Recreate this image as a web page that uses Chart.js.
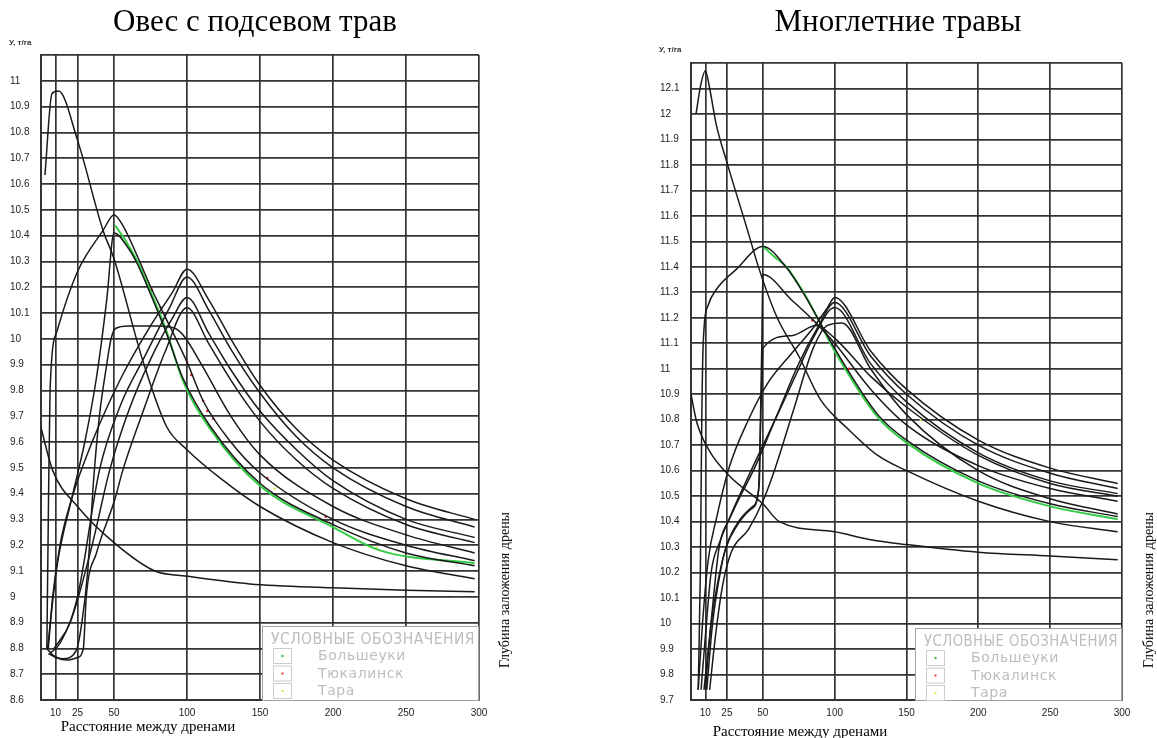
<!DOCTYPE html>
<html><head><meta charset="utf-8">
<script src="https://cdn.jsdelivr.net/npm/chart.js@4.4.1/dist/chart.umd.min.js"></script>
<style>
html,body{margin:0;padding:0;background:#fff}
body{width:1157px;height:738px;overflow:hidden;position:relative}
canvas{position:absolute;top:0}
#c1{left:0}#c2{left:578px}
.tt{position:absolute;font-family:"Liberation Serif",serif;color:#000;white-space:nowrap}
.yl{position:absolute;font-family:"Liberation Sans",Arial,sans-serif;font-size:8px;font-weight:bold;color:#333;white-space:nowrap}
.vt{position:absolute;font-family:"Liberation Serif",serif;font-size:14px;color:#000;white-space:nowrap;transform:translate(-50%,-50%) rotate(-90deg)}
</style></head><body>
<canvas id="c1" width="578" height="738"></canvas>
<canvas id="c2" width="579" height="738"></canvas>
<div class="tt" style="left:255px;top:3px;font-size:31px;transform:translateX(-50%)">Овес с подсевом трав</div>
<div class="tt" style="left:898px;top:3px;font-size:31px;transform:translateX(-50%)">Многлетние травы</div>
<div class="yl" style="left:9px;top:38px">У, т/га</div>
<div class="yl" style="left:659px;top:45px">У, т/га</div>
<div class="tt" style="left:148px;top:718px;font-size:15px;transform:translateX(-50%)">Расстояние между дренами</div>
<div class="tt" style="left:800px;top:723px;font-size:15px;transform:translateX(-50%)">Расстояние между дренами</div>
<div class="vt" style="left:505px;top:590px">Глубина заложения дрены</div>
<div class="vt" style="left:1149px;top:590px">Глубина заложения дрены</div>
<script>
// ---------- shared ----------
const xTickValues = [10, 25, 50, 100, 150, 200, 250, 300];
const legendLabels = ["Большеуки", "Тюкалинск", "Тара"];
const legendTitle = "УСЛОВНЫЕ ОБОЗНАЧЕНИЯ";

// ---------- Овес с подсевом трав (left) ----------
const oatYTicks = [8.6,8.7,8.8,8.9,9,9.1,9.2,9.3,9.4,9.5,9.6,9.7,9.8,9.9,10,10.1,10.2,10.3,10.4,10.5,10.6,10.7,10.8,10.9,11,11.1];
const oatNoPeak = [[0,9.655],[8,9.49],[25,9.35],[50,9.21],[78,9.10],[100,9.08],[143,9.05],[200,9.035],[250,9.025],[297,9.02]];
const oatPeak10 = [[2.7,10.635],[7.5,10.95],[12,10.96],[25,10.77],[42.5,10.42],[50,10.31],[70,9.91],[86,9.66],[100,9.57],[125,9.45],[150,9.35],[200,9.21],[250,9.12],[297,9.07]];
const oatPeak50a = [[4,8.8],[5,9.3],[6.2,9.8],[11,10.03],[25,10.26],[42.5,10.42],[50,10.48],[56,10.44],[66,10.32],[76,10.19],[82,10.12],[100,9.91],[111,9.76],[130,9.6],[150,9.48],[200,9.3],[250,9.2],[297,9.14]];
const oatPeak50b = [[4.5,8.8],[11,9.12],[21,9.38],[30,9.6],[38,9.85],[45,10.15],[50,10.41],[60,10.35],[66,10.29],[76,10.16],[86,10.02],[97,9.85],[116,9.66],[150,9.44],[200,9.28],[250,9.17],[297,9.12]];
const oatPlateau = [[4,8.8],[8,8.775],[15,8.76],[24,8.79],[28,8.9],[32,9.1],[36,9.45],[40,9.7],[45,9.9],[48,10.0],[51,10.04],[60,10.05],[80,10.05],[92,10.04],[98,10.01],[110,9.9],[130,9.7],[150,9.55],[200,9.35],[250,9.24],[297,9.17]];
const oatPeak100a = [[5,8.8],[8,9.0],[13,9.2],[21,9.38],[35,9.6],[55,9.85],[75,10.05],[90,10.18],[100,10.27],[115,10.15],[130,10.0],[150,9.82],[175,9.65],[200,9.53],[250,9.38],[297,9.30]];
const oatPeak100b = [[6,8.78],[13,8.82],[25,9.0],[40,9.49],[55,9.75],[70,9.92],[88,10.12],[100,10.24],[115,10.11],[130,9.96],[150,9.79],[175,9.62],[200,9.5],[250,9.35],[297,9.27]];
const oatPeak100c = [[9,8.8],[20,8.9],[35,9.2],[47,9.49],[60,9.72],[75,9.92],[90,10.08],[100,10.16],[115,10.02],[130,9.88],[150,9.72],[175,9.57],[200,9.45],[250,9.3],[297,9.23]];
const oatPeak100d = [[5,8.78],[10,8.765],[18,8.755],[25,8.765],[29,8.8],[31,9.0],[38,9.17],[50.7,9.38],[56,9.49],[70,9.72],[85,9.95],[100,10.12],[115,9.98],[130,9.84],[150,9.68],[175,9.53],[200,9.42],[250,9.28],[297,9.21]];
const oatBolsheuki = [[50.7,10.44],[58,10.38],[66,10.30],[76,10.17],[86,10.03],[97,9.84],[116,9.65],[150,9.43],[200,9.27],[232,9.18],[297,9.13]];
const oatTyukalinsk = [[76,10.19],[82,10.12],[100,9.91],[103,9.86],[111,9.76],[114,9.72],[118,9.69],[155,9.46],[195,9.31]];
const oatTara = [[160,9.42],[230,9.19]];

// ---------- Многлетние травы (right) ----------
const grassYTicks = [9.7,9.8,9.9,10,10.1,10.2,10.3,10.4,10.5,10.6,10.7,10.8,10.9,11,11.1,11.2,11.3,11.4,11.5,11.6,11.7,11.8,11.9,12,12.1,12.2];
const grassNoPeak = [[0,10.9],[4,10.79],[12.6,10.68],[26.6,10.58],[50,10.47],[61.5,10.40],[100,10.36],[124,10.33],[150,10.31],[200,10.28],[250,10.265],[297,10.25]];
const grassPeak10 = [[3.5,12.0],[7,12.12],[10,12.17],[13,12.1],[17.5,11.96],[25,11.81],[39,11.55],[47.5,11.39],[60,11.2],[75,11.05],[90,10.88],[110,10.76],[130,10.66],[150,10.6],[200,10.48],[250,10.40],[297,10.36]];
const grassPeak50a = [[5,9.74],[6.5,10.2],[7.5,10.8],[8.5,11.1],[12,11.25],[17.5,11.31],[31.5,11.39],[50,11.48],[66,11.4],[80,11.28],[88,11.2],[100,11.08],[130,10.82],[150,10.72],[200,10.56],[250,10.47],[297,10.42]];
const grassPeak50b = [[11,9.74],[15,10.0],[21,10.22],[25,10.31],[33,10.4],[43,10.46],[47.5,10.55],[48.5,10.85],[49.3,11.1],[50,11.37],[70,11.27],[87,11.18],[100,11.1],[125,10.92],[150,10.78],[200,10.62],[250,10.53],[297,10.48]];
const grassCorner50 = [[10,9.74],[14,10.0],[20,10.2],[24.5,10.30],[31.5,10.38],[42,10.45],[47,10.52],[48.5,10.8],[49.5,11.0],[50,11.08],[70,11.13],[87,11.17],[100,11.12],[125,10.97],[150,10.85],[200,10.66],[250,10.55],[297,10.50]];
const grassPeak100a = [[5,9.74],[8,10.0],[12,10.25],[18,10.42],[27,10.62],[40,10.8],[53,10.94],[70,11.06],[85,11.16],[95,11.24],[100,11.28],[125,11.07],[150,10.92],[200,10.72],[250,10.61],[297,10.55]];
const grassPeak100b = [[7,9.74],[10,9.95],[14,10.2],[20,10.32],[30,10.45],[45,10.62],[60,10.82],[75,11.02],[88,11.16],[100,11.26],[125,11.05],[150,10.9],[200,10.7],[250,10.59],[297,10.53]];
const grassPeak100c = [[9,9.74],[13,9.95],[19.6,10.30],[26.6,10.41],[38.5,10.56],[59.4,10.81],[75,11.0],[85,11.12],[100,11.24],[125,11.02],[150,10.87],[200,10.67],[250,10.56],[297,10.51]];
const grassPeak100d = [[13,9.74],[17,9.95],[22,10.15],[28,10.28],[40,10.37],[50,10.48],[58,10.6],[72,10.85],[85,11.08],[95,11.17],[105,11.18],[125,11.0],[150,10.82],[200,10.6],[250,10.49],[297,10.43]];
const grassBolsheuki = [[50,11.48],[58,11.44],[66.4,11.4],[80.4,11.28],[88,11.2],[100,11.07],[130,10.81],[150,10.71],[200,10.55],[250,10.46],[297,10.41]];
const grassTyukalinsk = [[84.6,11.19],[110,11.0]];
const grassTara = [[160,10.8]];

// ---------- helpers ----------
const pts = a => a.map(p => ({x: p[0], y: p[1]}));
const black = (label, arr) => ({label, data: pts(arr), showLine: true, borderColor: '#1a1a1a', borderWidth: 1.5,
  pointRadius: 0, cubicInterpolationMode: 'monotone', fill: false});
const colored = (label, arr, color, w) => ({label, data: pts(arr), showLine: true, borderColor: color, borderWidth: w,
  pointRadius: 0, cubicInterpolationMode: 'monotone', fill: false});
const dots = (label, arr, color) => ({label, data: pts(arr), showLine: false, pointRadius: 1.3,
  pointBackgroundColor: color, pointBorderWidth: 0});

function legendPlugin(w, h) {
  return {id: 'cadLegend', afterDatasetsDraw(chart) {
    const ctx = chart.ctx, a = chart.chartArea;
    const L = a.right - w, T = a.bottom - h;
    ctx.save();
    ctx.fillStyle = '#fff'; ctx.fillRect(L, T, w, h);
    ctx.strokeStyle = '#a0a0a0'; ctx.lineWidth = 1; ctx.strokeRect(L + 0.5, T + 0.5, w - 1, h);
    ctx.fillStyle = '#bdbdbd'; ctx.textBaseline = 'middle'; ctx.textAlign = 'left';
    ctx.font = '15px "DejaVu Sans"';
    ctx.letterSpacing = '0.5px';
    const tw = ctx.measureText(legendTitle).width;
    ctx.save(); ctx.translate(L + 9, T + 14); ctx.scale((w - 13) / tw, 1); ctx.fillText(legendTitle, 0, 0); ctx.restore();
    const cols = ['#2dbf3a', '#e23a3a', '#e6e24a'];
    ctx.font = '14px "DejaVu Sans"'; ctx.letterSpacing = '0.6px';
    for (let i = 0; i < 3; i++) {
      const by = T + 22 + i * 17.5;
      ctx.strokeStyle = '#cccccc'; ctx.strokeRect(L + 11.5, by + 0.5, 18, 15);
      ctx.fillStyle = cols[i]; ctx.fillRect(L + 19.5, by + 7, 2, 2);
      ctx.fillStyle = '#bdbdbd'; ctx.fillText(legendLabels[i], L + 56, by + 8.5);
    }
    ctx.restore();
  }};
}

function makeChart(id, datasets, yTicks, ymin, ymax, padL, padR, padT, legW, legH) {
  return new Chart(document.getElementById(id), {
    type: 'scatter',
    data: {datasets},
    options: {
      responsive: false, animation: false, devicePixelRatio: 1,
      layout: {padding: {left: padL, right: padR, top: padT, bottom: 0}},
      plugins: {legend: {display: false}, tooltip: {enabled: false}},
      scales: {
        x: {type: 'linear', min: 0, max: 300,
          afterBuildTicks: s => { s.ticks = xTickValues.map(v => ({value: v})); },
          afterFit: s => { s.height = 38; },
          grid: {color: '#333', lineWidth: 1.7, drawTicks: false},
          border: {color: '#333', width: 2},
          ticks: {padding: 7, color: '#222', font: {family: 'Liberation Sans', size: 10}, maxRotation: 0, autoSkip: false,
            callback: v => String(v)}},
        y: {type: 'linear', min: ymin, max: ymax,
          afterBuildTicks: s => { s.ticks = yTicks.map(v => ({value: v})); },
          afterFit: s => { s.width = 31; },
          grid: {color: '#333', lineWidth: 1.7, drawTicks: false},
          border: {color: '#333', width: 2},
          ticks: {crossAlign: 'far', color: '#222', font: {family: 'Liberation Sans', size: 10}, autoSkip: false,
            callback: v => (Math.abs(v - ymax) < 1e-6 ? '' : String(Number(v.toFixed(1))))}}
      }
    },
    plugins: [legendPlugin(legW, legH)]
  });
}

makeChart('c1', [
  black('noPeak', oatNoPeak), black('peak10', oatPeak10), black('peak50a', oatPeak50a), black('peak50b', oatPeak50b),
  black('plateau', oatPlateau), black('peak100a', oatPeak100a), black('peak100b', oatPeak100b),
  black('peak100c', oatPeak100c), black('peak100d', oatPeak100d),
  colored('Большеуки', oatBolsheuki, '#33cc44', 2), dots('Тюкалинск', oatTyukalinsk, '#e02020'), dots('Тара', oatTara, '#e8e060')
], oatYTicks, 8.6, 11.1, 10, 99, 55, 217, 74);

makeChart('c2', [
  black('noPeak', grassNoPeak), black('peak10', grassPeak10), black('peak50a', grassPeak50a), black('peak50b', grassPeak50b),
  black('corner50', grassCorner50), black('peak100a', grassPeak100a), black('peak100b', grassPeak100b),
  black('peak100c', grassPeak100c), black('peak100d', grassPeak100d),
  colored('Большеуки', grassBolsheuki, '#33cc44', 2), dots('Тюкалинск', grassTyukalinsk, '#e02020'), dots('Тара', grassTara, '#e8e060')
], grassYTicks, 9.7, 12.2, 82, 35, 63, 207, 72);
</script>
</body></html>
